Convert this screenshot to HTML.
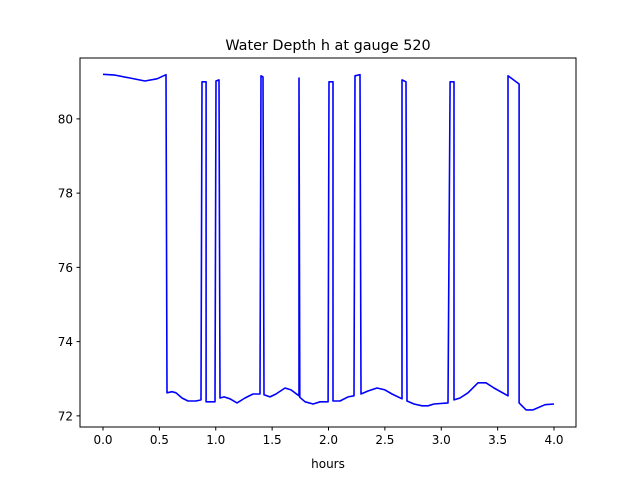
<!DOCTYPE html>
<html><head><meta charset="utf-8"><style>
body{margin:0;background:#fff}
svg{display:block;font-family:"DejaVu Sans","Liberation Sans",sans-serif}
</style></head><body>
<svg id="chart" width="640" height="480" viewBox="0 0 640 480">
<rect width="640" height="480" fill="#fff"/>
<text x="328" y="50" text-anchor="middle" font-size="14.4">Water Depth h at gauge 520</text>
<text x="328" y="468" text-anchor="middle" font-size="12">hours</text>
<g id="plot"></g>
<rect x="80" y="58" width="496" height="369" fill="none" stroke="#000" stroke-width="1"/>
</svg>
<script>
const hours=[0,0.106,0.239,0.372,0.479,0.559,0.568,0.612,0.647,0.701,0.754,0.825,0.869,0.878,0.914,0.914,0.993,1.002,1.029,1.038,1.073,1.126,1.188,1.259,1.330,1.392,1.401,1.419,1.428,1.481,1.534,1.614,1.667,1.738,1.738,1.745,1.792,1.863,1.925,1.996,2.004,2.040,2.040,2.102,2.173,2.226,2.235,2.279,2.288,2.350,2.430,2.501,2.563,2.652,2.652,2.687,2.696,2.758,2.829,2.883,2.936,3.060,3.078,3.113,3.113,3.166,3.237,3.326,3.397,3.468,3.592,3.592,3.690,3.690,3.752,3.814,3.920,4.0];
const depth=[81.2,81.18,81.10,81.02,81.08,81.19,72.62,72.65,72.62,72.48,72.40,72.40,72.43,81.00,81.00,72.38,72.38,81.02,81.05,72.48,72.51,72.46,72.35,72.48,72.59,72.59,81.16,81.13,72.57,72.51,72.59,72.75,72.70,72.54,81.10,72.50,72.38,72.32,72.38,72.38,81.00,81.00,72.40,72.40,72.51,72.54,81.16,81.19,72.59,72.67,72.75,72.70,72.59,72.46,81.05,81.00,72.40,72.32,72.27,72.27,72.32,72.35,81.00,81.00,72.43,72.48,72.62,72.89,72.89,72.75,72.54,81.16,80.94,72.35,72.16,72.16,72.30,72.32];
const xTicks=[0.0,0.5,1.0,1.5,2.0,2.5,3.0,3.5,4.0];
const xTickLabels=["0.0","0.5","1.0","1.5","2.0","2.5","3.0","3.5","4.0"];
const yTicks=[72,74,76,78,80];
const yTickLabels=["72","74","76","78","80"];
const X0=80,X1=576,Y0=427,Y1=58,xMin=-0.204,xMax=4.195,yMin=71.70,yMax=81.64;
function sx(v){return X0+(v-xMin)/(xMax-xMin)*(X1-X0);}
function sy(v){return Y0-(v-yMin)/(yMax-yMin)*(Y0-Y1);}
const NS="http://www.w3.org/2000/svg";
const g=document.getElementById('plot');
xTicks.forEach((t,i)=>{
  const l=document.createElementNS(NS,'line');
  
  
  l.setAttribute('x1',sx(t));l.setAttribute('x2',sx(t));l.setAttribute('y1',Y0);l.setAttribute('y2',Y0+3.5);l.setAttribute('stroke','#000');
  g.appendChild(l);
  const tx=document.createElementNS(NS,'text');
  
  
  tx.setAttribute('x',sx(t));tx.setAttribute('y',Y0+17);tx.setAttribute('text-anchor','middle');tx.setAttribute('font-size','12');
  tx.textContent=xTickLabels[i];g.appendChild(tx);
});
yTicks.forEach((t,i)=>{
  const l=document.createElementNS(NS,'line');
  
  
  l.setAttribute('x1',X0-3.5);l.setAttribute('x2',X0);l.setAttribute('y1',sy(t));l.setAttribute('y2',sy(t));l.setAttribute('stroke','#000');
  g.appendChild(l);
  const tx=document.createElementNS(NS,'text');
  
  
  tx.setAttribute('x',X0-7);tx.setAttribute('y',sy(t)+4.5);tx.setAttribute('text-anchor','end');tx.setAttribute('font-size','12');
  tx.textContent=yTickLabels[i];g.appendChild(tx);
});
const p=document.createElementNS(NS,'polyline');


p.setAttribute('points',hours.map((h,i)=>sx(h).toFixed(1)+','+sy(depth[i]).toFixed(1)).join(' '));
p.setAttribute('fill','none');p.setAttribute('stroke','#0000ff');p.setAttribute('stroke-width','1.6');p.setAttribute('stroke-linejoin','round');
g.appendChild(p);
</script>
</body></html>
